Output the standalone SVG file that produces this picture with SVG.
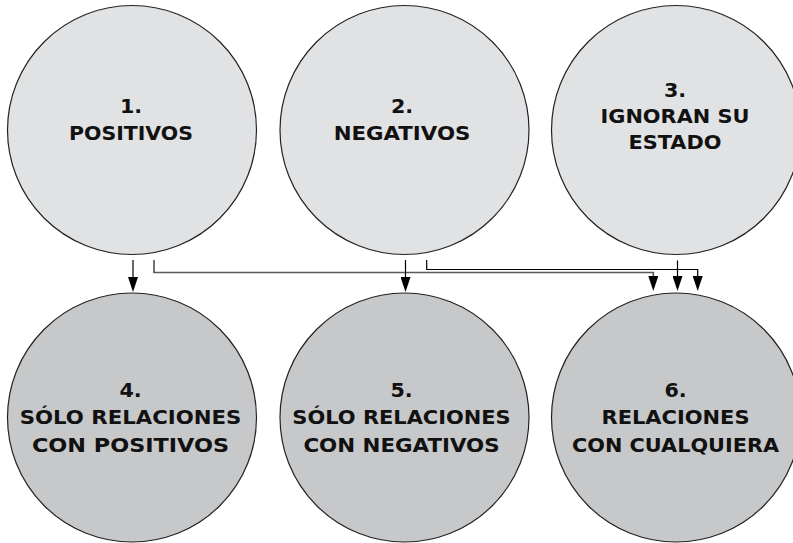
<svg xmlns="http://www.w3.org/2000/svg" width="793" height="543" viewBox="0 0 793 543">
  <defs>
    <!-- solid triangular arrowhead, base at the line end, pointing along the line -->
    <marker id="head" viewBox="0 0 15 10" refX="0" refY="5" markerWidth="15" markerHeight="10" markerUnits="userSpaceOnUse" orient="auto">
      <path d="M0,0 L15,5 L0,10 z" fill="#000"/>
    </marker>
    <style>
      .top { fill: #e1e2e4; stroke: #222; stroke-width: 1.2; }
      .bot { fill: #c7c8ca; stroke: #222; stroke-width: 1.2; }
      .lbl { font-family: "DejaVu Sans", "Liberation Sans", sans-serif; font-weight: bold; font-size: 19.5px; fill: #111; text-anchor: middle; }
      .wire { fill: none; stroke: #000; stroke-width: 1.2; }
      .wire-grey { fill: none; stroke: #5a5a5a; stroke-width: 1.7; }
    </style>
  </defs>

  <rect width="793" height="543" fill="#fff"/>

  <!-- upper row; labels are widened slightly for a broad bold face -->
  <g id="n1">
    <circle class="top" cx="132" cy="130" r="124.5"/>
    <g transform="translate(131,0) scale(1.06,1)">
      <text class="lbl" x="0" y="113">1.</text>
      <text class="lbl" x="0" y="140" textLength="117" lengthAdjust="spacingAndGlyphs">POSITIVOS</text>
    </g>
  </g>
  <g id="n2">
    <circle class="top" cx="404.5" cy="130" r="124.5"/>
    <g transform="translate(402,0) scale(1.06,1)">
      <text class="lbl" x="0" y="113">2.</text>
      <text class="lbl" x="0" y="140" textLength="129" lengthAdjust="spacingAndGlyphs">NEGATIVOS</text>
    </g>
  </g>
  <g id="n3">
    <circle class="top" cx="676" cy="130" r="124.5"/>
    <g transform="translate(675,0) scale(1.06,1)">
      <text class="lbl" x="0" y="97">3.</text>
      <text class="lbl" x="0" y="123" textLength="140.6" lengthAdjust="spacingAndGlyphs">IGNORAN SU</text>
      <text class="lbl" x="0" y="149" textLength="87.7" lengthAdjust="spacingAndGlyphs">ESTADO</text>
    </g>
  </g>

  <!-- lower row -->
  <g id="n4">
    <circle class="bot" cx="132" cy="417.5" r="124.5"/>
    <g transform="translate(130.5,0) scale(1.06,1)">
      <text class="lbl" x="0" y="397">4.</text>
      <text class="lbl" x="0" y="424" textLength="209" lengthAdjust="spacingAndGlyphs">SÓLO RELACIONES</text>
      <text class="lbl" x="0" y="452" textLength="186" lengthAdjust="spacingAndGlyphs">CON POSITIVOS</text>
    </g>
  </g>
  <g id="n5">
    <circle class="bot" cx="404.5" cy="417.5" r="124.5"/>
    <g transform="translate(401.5,0) scale(1.06,1)">
      <text class="lbl" x="0" y="397">5.</text>
      <text class="lbl" x="0" y="424" textLength="206" lengthAdjust="spacingAndGlyphs">SÓLO RELACIONES</text>
      <text class="lbl" x="0" y="452" textLength="185" lengthAdjust="spacingAndGlyphs">CON NEGATIVOS</text>
    </g>
  </g>
  <g id="n6">
    <circle class="bot" cx="676" cy="417.5" r="124.5"/>
    <g transform="translate(675.5,0) scale(1.06,1)">
      <text class="lbl" x="0" y="397">6.</text>
      <text class="lbl" x="0" y="424" textLength="139.6" lengthAdjust="spacingAndGlyphs">RELACIONES</text>
      <text class="lbl" x="0" y="452" textLength="195.3" lengthAdjust="spacingAndGlyphs">CON CUALQUIERA</text>
    </g>
  </g>

  <!-- connectors -->
  <g id="connectors">
    <path class="wire" d="M133,260 V277" marker-end="url(#head)"/>
    <path class="wire-grey" d="M154,260 V272.5 H653.3 V276" marker-end="url(#head)"/>
    <path class="wire" d="M405.5,260 V277" marker-end="url(#head)"/>
    <path class="wire" d="M426.7,260 V269.5 H697.7 V276" marker-end="url(#head)"/>
    <path class="wire" d="M677.5,260.5 V276" marker-end="url(#head)"/>
  </g>
</svg>
